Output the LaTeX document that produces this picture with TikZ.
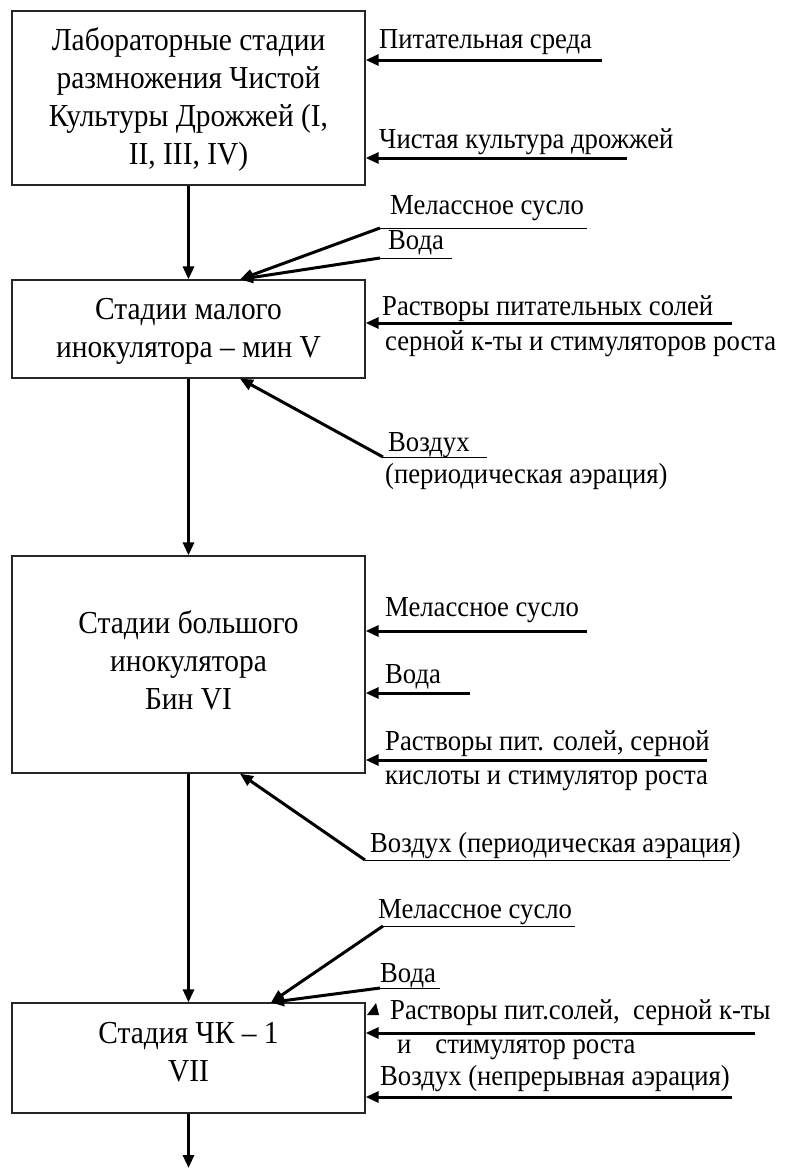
\documentclass[tikz,border=0pt]{standalone}
\usepackage{fontspec}
\setmainfont{Liberation Serif}
\newfontfamily\narrowserif[FakeStretch=0.92]{Liberation Serif}
\usetikzlibrary{arrows.meta}
\begin{document}
\begin{tikzpicture}[x=1pt,y=-1pt,
  stage/.style={draw=black!85,line width=1.3pt,minimum width=353pt,inner sep=0pt},
  stagetext/.style={inner sep=0pt,align=center,font=\narrowserif\fontsize{32}{38}\selectfont},
  lbl/.style={anchor=west,inner sep=0pt,font=\narrowserif\fontsize{29}{34}\selectfont,align=left},
  arr/.style={line width=3pt,-{Triangle[length=13pt,width=11pt]}},
  uline/.style={line width=1pt},
]
\useasboundingbox (0,0) rectangle (788,1168);
% stages
\node[stage,minimum height=174pt] (b1) at (188.5,98) {};
\node[stagetext] (b1t) at (188.5,99) {Лабораторные стадии\\размножения Чистой\\Культуры Дрожжей (I,\\II, III, IV)};
\node[stage,minimum height=98pt] (b2) at (188.5,329) {};
\node[stagetext] (b2t) at (188.5,331) {Стадии малого\\инокулятора – мин V};
\node[stage,minimum height=217pt] (b3) at (188.5,664.5) {};
\node[stagetext] (b3t) at (188.5,660) {Стадии большого\\инокулятора\\Бин VI};
\node[stage,minimum height=110pt] (b4) at (188.5,1058) {};
\node[stagetext] (b4t) at (188.5,1052) {Стадия ЧК – 1\\VII};
\coordinate (out) at (188.5,1168);
% main flow
\draw[arr] (b1) -- (b2);
\draw[arr] (b2) -- (b3);
\draw[arr] (b3) -- (b4);
\draw[arr] (b4) -- (out);
% stage 1 inputs
\node[lbl] (l1) at (379,42) {Питательная среда};
\coordinate (s1) at (602,60);
\draw[arr] (s1) -- (b1.east |- s1);
\node[lbl] (l2) at (379,142) {Чистая культура дрожжей};
\coordinate (s2) at (627,158);
\draw[arr] (s2) -- (b1.east |- s2);
% stage 2 inputs
\coordinate (t2) at (240,0);
\node[lbl] (l3) at (390,208) {Мелассное сусло};
\coordinate (u3a) at (380,228); \coordinate (u3b) at (587,228);
\draw[uline] (u3a) -- (u3b);
\draw[arr] (u3a) -- (b2.north -| t2);
\node[lbl] (l4) at (388,243) {Вода};
\coordinate (u4a) at (380,258); \coordinate (u4b) at (452,258);
\draw[uline] (u4a) -- (u4b);
\draw[arr] (u4a) -- (b2.north -| t2);
\node[lbl] (l5) at (382,309) {Растворы питательных солей};
\coordinate (s5) at (732,323);
\draw[arr] (s5) -- (b2.east |- s5);
\node[lbl] (l6) at (385,344) {серной к-ты и стимуляторов роста};
\node[lbl] (l7) at (388,445) {Воздух};
\coordinate (u7a) at (383,457); \coordinate (u7b) at (487,457);
\draw[uline] (u7a) -- (u7b);
\draw[arr] (u7a) -- (b2.south -| t2);
\node[lbl] (l8) at (385,477) {(периодическая аэрация)};
% stage 3 inputs
\node[lbl] (l9) at (385,610) {Мелассное сусло};
\coordinate (s9) at (587,631);
\draw[arr] (s9) -- (b3.east |- s9);
\node[lbl] (l10) at (385,677) {Вода};
\coordinate (s10) at (470,693);
\draw[arr] (s10) -- (b3.east |- s10);
\node[lbl] (l11) at (385,744) {Растворы пит. солей, серной};
\coordinate (s11) at (707,760);
\draw[arr] (s11) -- (b3.east |- s11);
\node[lbl] (l12) at (385,781) {кислоты и стимулятор роста};
\node[lbl] (l13) at (370,846) {Воздух (периодическая аэрация)};
\coordinate (u13a) at (365,860); \coordinate (u13b) at (730,860);
\draw[uline] (u13a) -- (u13b);
\draw[arr] (u13a) -- (b3.south -| t2);
% stage 4 inputs
\coordinate (t4) at (271,0);
\node[lbl] (l14) at (378,912) {Мелассное сусло};
\coordinate (u14a) at (383,926); \coordinate (u14b) at (575,926);
\draw[uline] (u14a) -- (u14b);
\draw[arr] (u14a) -- (b4.north -| t4);
\node[lbl] (l15) at (380,976) {Вода};
\coordinate (u15a) at (380,988); \coordinate (u15b) at (440,988);
\draw[uline] (u15a) -- (u15b);
\draw[arr] (u15a) -- (b4.north -| t4);
\fill (367,1015) -- (379,1015) -- (376,1003) -- cycle;
\node[lbl] (l16) at (390,1013) {Растворы пит.солей,\ \ серной к-ты};
\coordinate (s16) at (755,1033);
\draw[arr] (s16) -- (b4.east |- s16);
\node[lbl] (l17) at (397,1050) {и\hspace{24pt}стимулятор роста};
\node[lbl] (l18) at (380,1079) {Воздух (непрерывная аэрация)};
\coordinate (s18) at (732,1097);
\draw[arr] (s18) -- (b4.east |- s18);
\end{tikzpicture}
\end{document}
